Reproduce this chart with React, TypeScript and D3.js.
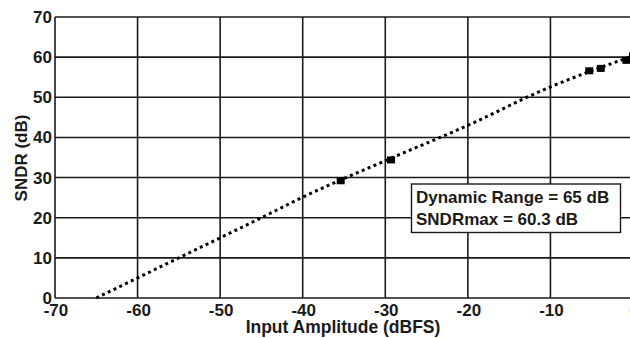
import { useEffect, useRef } from "react";
import * as d3 from "d3";

// fitted (dotted) SNDR curve
const lineAmp = [-65, -55, -45, -40, -30, -20, -10, -5, 0];
const lineSndr = [0, 10, 20, 25.1, 34.2, 43, 52.6, 56.6, 60.3];

// measured points (square markers)
const markAmp = [-35.4, -29.3, -5.3, -3.9, -0.8, 0];
const markSndr = [29.2, 34.4, 56.6, 57.2, 59.2, 60.3];

const xTicks = [-70, -60, -50, -40, -30, -20, -10, 0];
const yTicks = [0, 10, 20, 30, 40, 50, 60, 70];
const legendLines = ["Dynamic Range = 65 dB", "SNDRmax = 60.3 dB"];

const W = 630;
const H = 338;

const App = () => {
  const svgRef = useRef<SVGSVGElement>(null);

  useEffect(() => {
    const svg = d3.select(svgRef.current);
    svg.selectAll("*").remove();

    const left = 55, right = 633, top = 17, bottom = 298;
    const ink = "#1a1a1a";
    const font = "'Liberation Sans', Arial, sans-serif";

    const x = d3.scaleLinear().domain([-70, 0]).range([left, right]);
    const y = d3.scaleLinear().domain([0, 70]).range([bottom, top]);

    svg.append("rect").attr("width", W).attr("height", H).attr("fill", "#fff");

    // grid
    const g = svg.append("g").attr("stroke", ink).attr("stroke-width", 1.6);
    g.selectAll(".vx")
      .data(xTicks)
      .enter()
      .append("line")
      .attr("x1", d => x(d)).attr("x2", d => x(d))
      .attr("y1", top).attr("y2", bottom);
    g.selectAll(".hy")
      .data(yTicks)
      .enter()
      .append("line")
      .attr("x1", left).attr("x2", right)
      .attr("y1", d => y(d)).attr("y2", d => y(d));

    // tick labels
    svg.append("g")
      .selectAll("text")
      .data(yTicks)
      .enter()
      .append("text")
      .attr("x", left - 3)
      .attr("y", d => y(d) + 6)
      .attr("text-anchor", "end")
      .attr("font-family", font).attr("font-weight", "bold").attr("font-size", 17)
      .attr("fill", ink)
      .text(d => d);

    svg.append("g")
      .selectAll("text")
      .data(xTicks)
      .enter()
      .append("text")
      .attr("x", d => x(d) + 1)
      .attr("y", bottom + 18)
      .attr("text-anchor", "middle")
      .attr("font-family", font).attr("font-weight", "bold").attr("font-size", 17)
      .attr("fill", ink)
      .text(d => d);

    svg.append("text")
      .attr("x", 343).attr("y", 333)
      .attr("text-anchor", "middle")
      .attr("font-family", font).attr("font-weight", "bold").attr("font-size", 17.5)
      .attr("fill", ink)
      .text("Input Amplitude (dBFS)");

    svg.append("text")
      .attr("transform", `translate(27 ${158}) rotate(-90)`)
      .attr("text-anchor", "middle")
      .attr("font-family", font).attr("font-weight", "bold").attr("font-size", 17)
      .attr("fill", ink)
      .text("SNDR (dB)");

    // dotted curve
    const pts = lineAmp.map((a, i) => [a, lineSndr[i]] as [number, number]);
    const line = d3.line<[number, number]>()
      .x(d => x(d[0]))
      .y(d => y(d[1]))
      .curve(d3.curveMonotoneX);
    svg.append("path")
      .datum(pts)
      .attr("fill", "none")
      .attr("stroke", "#000")
      .attr("stroke-width", 3)
      .attr("stroke-dasharray", "3 3.4")
      .attr("d", line);

    // markers
    const marks = markAmp.map((a, i) => [a, markSndr[i]] as [number, number]);
    svg.append("g")
      .selectAll("rect")
      .data(marks)
      .enter()
      .append("rect")
      .attr("x", d => x(d[0]) - 4)
      .attr("y", d => y(d[1]) - 3.5)
      .attr("width", 8)
      .attr("height", 7)
      .attr("fill", "#000");

    // legend box
    const lg = svg.append("g");
    lg.append("rect")
      .attr("x", 411.5).attr("y", 184)
      .attr("width", 209).attr("height", 48.5)
      .attr("fill", "#fff")
      .attr("stroke", ink)
      .attr("stroke-width", 1.4);
    lg.selectAll("text")
      .data(legendLines)
      .enter()
      .append("text")
      .attr("x", 416)
      .attr("y", (_, i) => 203 + i * 22)
      .attr("font-family", font).attr("font-weight", "bold").attr("font-size", 17)
      .attr("fill", ink)
      .text(d => d);
  }, []);

  return (
    <div style={{ position: "fixed", left: 0, top: 0 }}>
      <svg ref={svgRef} width={W} height={H} style={{ display: "block" }} />
    </div>
  );
};

export default App;
